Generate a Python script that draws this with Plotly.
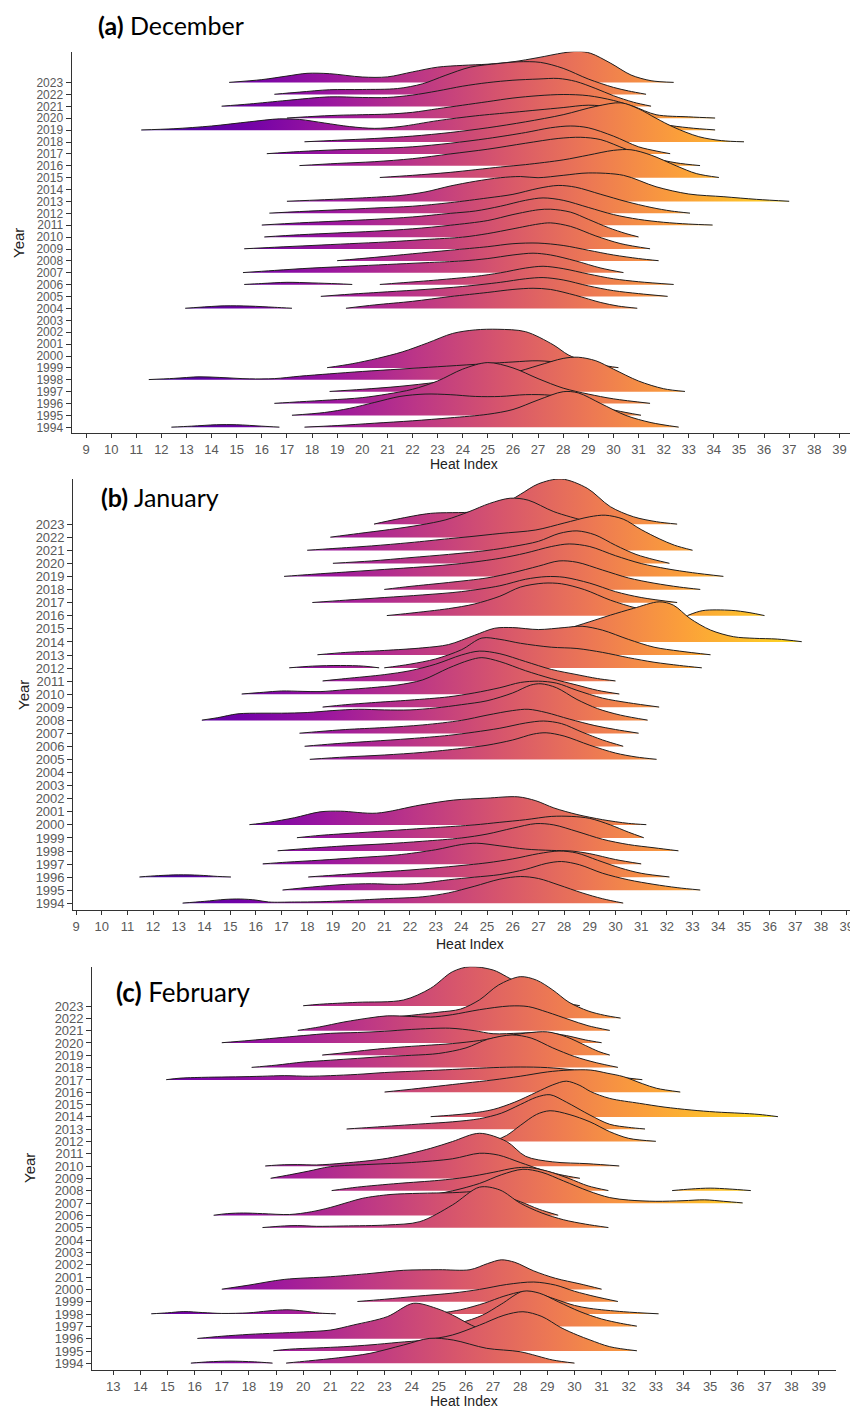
import plotly.graph_objects as go

# ---------------- (a) December ----------------
dec_years = [2023, 2022, 2021, 2020, 2019, 2018, 2017, 2016, 2015, 2013, 2012, 2011, 2010, 2009, 2008, 2007,
             2006, 2006, 2005, 2004, 2004, 1999, 1998, 1997, 1996, 1995, 1994, 1994]
dec_x = [
    [14.7, 16, 17, 17.8, 18.7, 20, 21, 22, 23, 24, 25, 26, 27, 28, 28.6, 29.1, 29.9, 30.7, 31.5, 32.4],
    [16.5, 17.5, 18.7, 20, 21.4, 22.4, 23.3, 24.3, 25.4, 26.2, 27.1, 28, 29, 30, 30.6, 31.3],
    [14.4, 15.5, 17, 18.7, 20, 21, 22, 23, 24, 25, 26, 27, 27.8, 28.5, 29.3, 30, 30.8, 31.5],
    [17, 18, 19, 20, 21, 22, 23, 24, 25, 26, 27, 28, 29, 30, 30.8, 31.7, 33, 34.05],
    [11.2, 12.5, 14, 15.5, 16.7, 17.5, 18.5, 19.5, 20.5, 21.5, 23, 24.5, 26, 27, 28, 29, 30, 31, 32, 33, 34.05],
    [17.7, 19, 20.5, 22, 23.5, 25, 26.5, 28, 29.3, 30.3, 31, 31.7, 32.4, 33.4, 34.3, 35.2],
    [16.2, 17.5, 19, 20.5, 22, 23.5, 25, 26.5, 27.5, 28.3, 29, 30, 31, 31.7, 32.26],
    [17.5, 19, 20.5, 22, 23.5, 25, 26.5, 27.8, 28.7, 29.5, 30.5, 31.5, 32.5, 33.45],
    [20.7, 22, 23.5, 25.5, 26.5, 28, 29, 30, 30.7, 31.5, 32.5, 33.3, 34.2],
    [17, 18.5, 20, 21.5, 22.5, 23.5, 24.5, 25.5, 26.3, 27, 28, 29, 30.4, 31.7, 33, 34.4, 35.7, 37],
    [16.3, 17.5, 19, 20.5, 22, 23.5, 25, 26, 27, 27.8, 28.5, 29.5, 30.5, 31.5, 32.3, 33.05],
    [16, 17.5, 19, 20.5, 22, 23.5, 24.5, 25.5, 26.5, 27.2, 28, 29, 30, 31, 32, 33, 33.95],
    [16.1, 17.5, 19, 20.5, 22, 23.5, 25, 26, 27, 27.5, 28.3, 29, 29.8, 30.5, 31],
    [15.3, 16.5, 18, 19.5, 21, 22.5, 24, 25, 26, 27, 27.5, 28.3, 29.3, 30.3, 31.46],
    [19, 20.5, 22, 23.5, 25, 26, 27, 28, 29, 30, 31, 31.8],
    [15.25, 16.5, 18, 19.5, 21, 22.5, 24, 25, 26, 26.8, 27.5, 28.5, 29.5, 30.4],
    [15.3, 16, 17, 18, 19, 19.6],
    [20.7, 21.5, 23, 24.5, 25.5, 26.5, 27.2, 28, 29, 30, 31, 32.4],
    [18.35, 19.5, 21, 22.5, 24, 25.5, 26.5, 27.2, 28, 29, 30, 31, 32.16],
    [12.95, 13.5, 14.5, 15.5, 16.5, 17.2],
    [19.35, 20.5, 22, 23.5, 25, 26, 26.8, 27.5, 28.5, 29.5, 30.2, 30.95],
    [18.6, 19.6, 20.6, 21.6, 22.6, 23.6, 24.5, 25.4, 26.5, 27.6, 28.2, 28.8, 29.5, 30.2],
    [11.5, 12.5, 13.5, 14.3, 15.5, 16.5, 17.5, 18.7, 20, 21.5, 23, 24.5, 26, 27, 28, 29, 30, 30.8],
    [18.7, 20, 21.5, 23, 24.5, 26, 27, 28, 28.6, 29.3, 30, 31, 32, 32.85],
    [16.5, 17.5, 18.7, 20, 21, 22, 23, 24, 25, 26, 27, 28, 29, 30, 31.46],
    [17.2, 18.5, 19.5, 20.5, 21.5, 22.5, 23.5, 24.5, 25.5, 26.5, 27.5, 28.5, 29.5, 30.5, 31.1],
    [12.4, 13.2, 14.2, 15, 16, 16.7],
    [17.7, 19, 20.5, 22, 23.5, 25, 26, 27, 28, 28.6, 29.5, 30.5, 31.5, 32.6],
]
dec_h = [
    [.02, .25, .55, .78, .75, .47, .48, .9, 1.3, 1.45, 1.55, 1.75, 2.1, 2.5, 2.63, 2.46, 1.62, .64, .16, .02],
    [.02, .2, .4, .42, .5, .9, 1.6, 2.3, 2.6, 2.75, 2.7, 2.2, 1.3, .6, .3, .02],
    [.02, .2, .5, .8, .75, .75, .95, 1.3, 1.7, 2.0, 2.2, 2.3, 2.35, 2.1, 1.5, .9, .35, .02],
    [.02, .15, .25, .3, .35, .5, .8, 1.1, 1.4, 1.7, 1.9, 2.0, 1.9, 1.5, 1.0, .3, .12, .02],
    [.02, .12, .35, .7, .95, .9, .6, .3, .15, .3, .8, 1.2, 1.5, 1.7, 1.9, 2.1, 1.9, 1.2, .5, .2, .02],
    [.02, .15, .3, .5, .8, 1.2, 1.7, 2.3, 3.0, 3.3, 2.8, 2.0, 1.25, .45, .12, .02],
    [.02, .2, .35, .45, .6, .9, 1.3, 1.8, 2.2, 2.35, 2.2, 1.5, .6, .25, .02],
    [.02, .2, .35, .6, 1.0, 1.4, 1.9, 2.3, 2.4, 2.2, 1.4, .7, .25, .02],
    [.02, .2, .45, .9, 1.1, 1.5, 1.9, 2.3, 2.35, 1.9, 1.0, .35, .02],
    [.02, .15, .3, .5, .8, 1.3, 1.7, 2.0, 2.1, 2.0, 2.2, 2.4, 2.2, 1.24, .63, .4, .18, .02],
    [.02, .15, .3, .45, .6, .9, 1.3, 1.6, 2.1, 2.35, 2.2, 1.6, 1.0, .5, .2, .02],
    [.02, .2, .35, .5, .7, 1.0, 1.2, 1.6, 2.1, 2.3, 2.1, 1.5, .9, .5, .25, .1, .02],
    [.02, .2, .35, .5, .7, 1.0, 1.4, 1.9, 2.3, 2.35, 2.1, 1.5, .8, .3, .02],
    [.02, .15, .3, .45, .6, .8, 1.0, 1.3, 1.7, 2.1, 2.2, 1.9, 1.1, .45, .02],
    [.02, .3, .6, .9, 1.2, 1.45, 1.5, 1.3, .9, .5, .2, .02],
    [.02, .2, .4, .55, .7, .85, 1.0, 1.2, 1.5, 1.65, 1.5, 1.0, .4, .02],
    [.02, .1, .2, .15, .08, .02],
    [.02, .15, .4, .7, 1.0, 1.4, 1.55, 1.35, .9, .5, .25, .02],
    [.02, .2, .4, .6, .85, 1.2, 1.5, 1.6, 1.4, .9, .5, .25, .02],
    [.02, .1, .22, .2, .1, .02],
    [.02, .3, .6, 1.0, 1.35, 1.6, 1.7, 1.6, 1.1, .5, .2, .02],
    [.02, .35, .8, 1.35, 2.1, 2.9, 3.2, 3.25, 3.05, 1.95, 1.1, .6, .25, .02],
    [.02, .12, .25, .2, .08, .1, .3, .5, .7, .9, 1.1, 1.3, 1.5, 1.6, 1.4, .9, .35, .02],
    [.02, .2, .45, .8, 1.2, 1.6, 2.2, 2.8, 2.9, 2.6, 1.9, .9, .25, .02],
    [.02, .15, .3, .5, .8, 1.2, 1.9, 2.9, 3.45, 3.0, 2.1, 1.3, .8, .4, .02],
    [.02, .25, .6, 1.1, 1.6, 1.8, 1.75, 1.6, 1.6, 1.75, 1.7, 1.3, .7, .25, .02],
    [.02, .1, .22, .22, .1, .02],
    [.02, .15, .35, .55, .8, 1.1, 1.5, 2.3, 3.0, 2.9, 2.0, 1.0, .4, .02],
]

# ---------------- (b) January ----------------
jan_years = [2023, 2022, 2021, 2020, 2019, 2018, 2017, 2016, 2016, 2014, 2013, 2012, 2012, 2011, 2010, 2009,
             2008, 2007, 2006, 2005, 2000, 1999, 1998, 1997, 1996, 1996, 1995, 1994]
jan_x = [
    [20.6, 21.5, 22.8, 24.5, 25.5, 26.3, 27, 27.9, 28.9, 29.8, 30.7, 31.6, 32.4],
    [18.9, 20, 21.2, 22.4, 23.4, 24.3, 25.1, 25.9, 26.6, 27.6, 28.9, 29.7, 30.5, 31.3],
    [18, 19, 20.5, 22, 23.5, 24.3, 25.5, 26.9, 28, 29, 29.6, 30.3, 31, 31.7, 32.3, 33],
    [19, 20.5, 22, 23.5, 25, 26, 27, 27.8, 28.5, 29.2, 30, 30.8, 31.5, 32.1],
    [17.1, 18, 19.5, 21, 22.5, 24, 25.5, 26.5, 27.5, 28.2, 29, 30, 31, 32, 33, 34.2],
    [21, 22, 23.5, 25, 26, 27, 27.8, 28.5, 29.5, 30.5, 31.5, 32.5, 33.3],
    [18.2, 19.5, 21, 22.5, 24, 25.5, 26.5, 27.3, 28, 29, 30, 31, 32.4],
    [21.1, 22, 23.5, 24.5, 25.5, 26.3, 27.2, 27.9, 28.8, 29.8, 30.8, 31.7, 32.4],
    [32.8, 33.4, 34.5, 35.2, 35.8],
    [25, 26, 27, 28, 29, 29.8, 30.7, 31.7, 32.25, 32.9, 33.7, 34.6, 35.4, 36.3, 37.25],
    [18.4, 19.5, 21, 22.5, 23.5, 24.5, 25.3, 26, 27, 28, 28.7, 29.5, 30.5, 31.5, 32.5, 33.7],
    [17.3, 18.2, 19.3, 20.2, 20.8],
    [21, 22, 23, 24, 24.8, 25.5, 26.3, 27.5, 28.5, 29.5, 30.5, 31.5, 32.5, 33.36],
    [18.6, 19.5, 21, 22, 23, 24, 24.7, 25.5, 26.5, 27.5, 28.5, 29.3, 30],
    [15.45, 16.3, 17, 17.8, 18.5, 19.5, 20.5, 21.5, 22.5, 23.5, 24.3, 24.8, 25.5, 26.5, 27.5, 28.5, 29.3, 30.15],
    [18.6, 19.5, 20.5, 22, 23.5, 24.5, 25.5, 26.3, 27, 27.7, 28.5, 29.5, 30.5, 31.7],
    [13.9, 14.5, 15.3, 16.2, 17, 18, 19, 20, 21, 22, 23, 24, 25, 26, 26.7, 27.1, 27.7, 28.5, 29.3, 30.2, 31.25],
    [17.7, 18.5, 19.5, 21, 22.5, 24, 25, 26, 26.6, 27.3, 28.2, 29.2, 30, 30.9],
    [17.9, 19, 20.5, 22, 23.5, 24.5, 25.5, 26.5, 27.2, 27.9, 28.7, 29.5, 30.3],
    [18.1, 19.5, 21, 22.5, 24, 25, 26, 26.8, 27.3, 28, 29, 30, 30.8, 31.6],
    [15.75, 16.5, 17.5, 18.5, 19.3, 20.7, 22.4, 23.7, 25, 26.2, 26.9, 27.6, 28.5, 29.5, 30.5, 31.2],
    [17.6, 18.5, 20, 21.5, 23, 24.5, 25.5, 26.5, 27.5, 28.3, 29, 29.8, 30.5, 31.1],
    [16.85, 18, 19.5, 21, 22.5, 24, 25, 26, 26.9, 27.6, 28.5, 29.5, 30.5, 31.5, 32.45],
    [16.27, 17.2, 18.5, 20, 21.5, 23, 24, 24.6, 25.5, 26.5, 27.5, 28.3, 29, 30, 31],
    [11.47, 12.2, 13, 13.8, 14.5, 15.03],
    [18.04, 19, 20.5, 22, 23.5, 25, 26, 27, 27.8, 28.5, 29.3, 30.2, 31, 32.1],
    [17.04, 18.2, 19.5, 20.5, 21.5, 22.5, 23.5, 24.5, 25.5, 26.5, 27.3, 27.9, 28.6, 29.5, 30.5, 31.5, 32.4, 33.3],
    [13.15, 14, 14.8, 15.4, 16, 16.5, 17.5, 18.5, 19.5, 21, 22.5, 23.5, 24.5, 25.5, 26.3, 27, 27.8, 28.7, 29.5, 30.3],
]
jan_h = [
    [.02, .4, .84, .96, 1.4, 2.3, 3.1, 3.47, 2.76, 1.35, .58, .2, .02],
    [.02, .3, .6, .95, 1.35, 1.97, 2.6, 3.0, 2.85, 1.97, 1.2, .7, .3, .02],
    [.02, .15, .35, .6, .9, 1.05, 1.3, 1.57, 2.1, 2.58, 2.7, 2.4, 1.6, .9, .4, .02],
    [.02, .2, .45, .7, 1.0, 1.3, 1.7, 2.3, 2.5, 2.2, 1.4, .7, .3, .02],
    [.02, .15, .35, .55, .75, 1.0, 1.4, 1.8, 2.3, 2.5, 2.3, 1.6, 1.0, .6, .3, .02],
    [.02, .25, .55, .9, 1.3, 1.8, 2.2, 2.1, 1.5, .9, .5, .2, .02],
    [.02, .2, .4, .6, .85, 1.3, 1.8, 2.0, 1.95, 1.5, .85, .4, .02],
    [.02, .2, .55, .9, 1.5, 2.2, 2.5, 2.45, 2.0, 1.2, .6, .25, .02],
    [.02, .4, .42, .25, .02],
    [.02, .25, .55, .95, 1.55, 2.05, 2.57, 3.07, 2.82, 1.8, .91, .4, .28, .22, .02],
    [.02, .2, .35, .55, .8, 1.5, 2.05, 2.1, 1.95, 2.1, 2.2, 1.9, 1.2, .6, .3, .02],
    [.02, .15, .2, .15, .02],
    [.02, .3, .7, 1.4, 2.3, 2.2, 1.9, 1.6, 1.5, 1.2, .8, .45, .2, .02],
    [.02, .2, .5, .8, 1.3, 2.0, 2.3, 2.1, 1.5, .9, .5, .2, .02],
    [.02, .15, .25, .22, .2, .35, .5, .7, 1.1, 2.0, 2.6, 2.8, 2.5, 1.8, 1.2, .7, .3, .02],
    [.02, .2, .35, .55, .8, 1.1, 1.5, 1.9, 2.0, 1.85, 1.3, .7, .35, .02],
    [.02, .2, .5, .55, .55, .6, .75, .85, .8, .8, .95, 1.2, 1.5, 2.1, 2.7, 2.8, 2.5, 1.6, .9, .4, .02],
    [.02, .15, .3, .45, .65, 1.0, 1.4, 1.75, 1.85, 1.6, 1.1, .6, .3, .02],
    [.02, .2, .4, .6, .85, 1.1, 1.4, 1.8, 1.95, 1.75, 1.1, .5, .02],
    [.02, .2, .35, .55, .85, 1.1, 1.5, 1.95, 2.05, 1.8, 1.1, .5, .2, .02],
    [.02, .2, .55, 1.0, 1.05, .9, 1.52, 1.9, 2.05, 2.15, 1.85, 1.3, .8, .4, .12, .02],
    [.02, .2, .4, .6, .8, 1.0, 1.2, 1.4, 1.65, 1.65, 1.5, 1.0, .45, .02],
    [.02, .2, .4, .55, .75, 1.0, 1.3, 1.75, 2.1, 2.0, 1.5, .9, .5, .25, .02],
    [.02, .15, .3, .5, .7, 1.1, 1.5, 1.6, 1.4, 1.15, 1.05, 1.0, .8, .35, .02],
    [.02, .12, .18, .15, .06, .02],
    [.02, .15, .35, .55, .8, 1.1, 1.4, 1.8, 2.0, 1.85, 1.3, .7, .3, .02],
    [.02, .25, .45, .5, .45, .55, .8, 1.0, 1.2, 1.6, 2.05, 2.2, 1.95, 1.3, .8, .45, .2, .02],
    [.02, .15, .3, .33, .25, .1, .1, .12, .2, .35, .5, .8, 1.3, 1.85, 2.05, 1.9, 1.4, .8, .35, .02],
]

# ---------------- (c) February ----------------
feb_years = [2023, 2022, 2021, 2020, 2019, 2018, 2017, 2016, 2014, 2013, 2012, 2010, 2009, 2008, 2008, 2007,
             2006, 2005, 2000, 1999, 1998, 1998, 1997, 1996, 1995, 1994, 1994]
feb_x = [
    [20, 20.6, 22, 23.7, 24.7, 25.5, 26.15, 27, 27.5, 28.2, 28.9, 29.6, 30.2],
    [23, 24, 25, 25.8, 26.5, 27.2, 28, 28.6, 29.2, 29.8, 30.5, 31.1, 31.7],
    [19.8, 20.6, 21.5, 22.5, 23.1, 24, 24.7, 25.5, 26.5, 27.6, 28.3, 29, 29.8, 30.5, 31.3],
    [17, 18, 19, 20, 21, 22, 23, 24, 25.4, 26.3, 27, 28, 28.9, 29.7, 30.4, 31],
    [20.7, 21.5, 22.5, 23.5, 24.5, 25.5, 26.5, 27.3, 28.2, 29, 29.7, 30.4, 30.9, 31.3],
    [18.1, 19, 20, 21, 22, 23, 24, 25, 26, 26.8, 27.7, 28.4, 29.2, 30, 30.8, 31.6],
    [14.95, 15.5, 16.5, 17.5, 18.5, 19.3, 20.2, 21, 22, 23, 24, 25, 26, 27, 28, 29, 30, 31, 31.8, 32.5],
    [23, 24, 25, 26, 27, 28, 29, 29.8, 30.6, 31.2, 31.8, 32.5, 33.03, 33.9],
    [24.7, 25.5, 26.2, 27, 27.8, 28.6, 29.2, 29.7, 30.2, 30.6, 31.3, 32.4, 33.3, 34.3, 35.2, 36.1, 36.8, 37.5],
    [21.6, 22.5, 23.5, 24.5, 25.5, 26.5, 27.3, 28, 28.6, 29.1, 29.7, 30.57, 31.3, 32, 32.6],
    [27, 27.5, 28, 28.6, 29.1, 29.8, 30.57, 31.3, 32, 33],
    [18.6, 19.3, 19.8, 20.5, 21.5, 23.1, 24.7, 25.5, 26.5, 27.5, 28.2, 29.2, 30.5, 31.65],
    [18.8, 19.5, 20.2, 21, 22.5, 24, 25.5, 26.5, 27.2, 28, 28.8, 29.5, 30.2],
    [21.05, 22, 23.5, 25, 26, 27, 27.8, 28.3, 29, 29.8, 30.5, 31.25],
    [33.6, 34.3, 35, 35.7, 36.5],
    [22.5, 23.5, 24.5, 25.5, 26.5, 27.3, 28.1, 28.8, 29.6, 30.5, 31.3, 32, 33, 34, 34.8, 35.5, 36.2],
    [16.7, 17.2, 17.8, 18.5, 19.5, 20.3, 21, 21.7, 22.2, 23.2, 24.3, 25.5, 26.5, 27.2, 28, 28.7, 29.4],
    [18.5, 19.3, 19.8, 20.5, 21.5, 23.1, 24.3, 25.5, 26.5, 27.25, 28, 28.8, 29.6, 30.4, 31.25],
    [17, 18, 19.3, 21, 22.5, 23.7, 25, 26.15, 26.8, 27.3, 27.8, 28.5, 29.3, 30.2, 31],
    [22, 23, 24.2, 25.5, 26.5, 27.5, 28.5, 29.3, 30, 30.8, 31.6],
    [14.4, 15, 15.6, 16.3, 17, 18, 18.7, 19.4, 20, 20.6, 21.2],
    [24.9, 25.8, 26.7, 27.4, 28.1, 28.6, 29.3, 30, 30.57, 31.8, 33.1],
    [25, 25.8, 26.6, 27.3, 28.1, 28.7, 29.4, 30.2, 31, 31.7, 32.3],
    [16.1, 17, 18, 19, 20, 21, 21.85, 23.1, 24.06, 24.9, 25.5, 26.2, 26.8, 27.8, 29],
    [18.9, 19.5, 20.5, 21.5, 22.5, 23.5, 24.5, 25.5, 26.5, 27.4, 28.1, 28.8, 29.5, 30.1, 30.57, 31.3, 32.3],
    [15.86, 16.5, 17.3, 18.2, 18.87],
    [19.37, 20.2, 21.3, 22.46, 23.7, 24.67, 25.53, 26.76, 28, 29.2, 30],
]
feb_h = [
    [.02, .14, .3, .49, 1.44, 2.78, 3.19, 2.92, 2.38, 1.5, .8, .3, .02],
    [.02, .25, .5, .75, 1.5, 2.7, 3.38, 3.1, 2.3, 1.3, .6, .25, .02],
    [.02, .3, .7, 1.05, 1.2, 1.15, 1.1, 1.3, 1.7, 2.0, 1.95, 1.5, .9, .4, .02],
    [.02, .2, .4, .6, .78, .85, .95, 1.1, 1.2, 1.0, .75, .8, .85, .6, .25, .02],
    [.02, .2, .45, .65, .8, .95, 1.2, 1.5, 1.8, 1.9, 1.5, .8, .3, .02],
    [.02, .2, .45, .6, .75, .9, 1.0, 1.15, 1.6, 2.3, 2.65, 2.4, 1.6, .9, .4, .02],
    [.02, .15, .22, .25, .3, .35, .3, .35, .45, .6, .7, .8, .9, 1.0, 1.05, 1.0, .8, .45, .2, .02],
    [.02, .25, .5, .75, 1.0, 1.3, 1.65, 1.8, 1.8, 1.55, 1.27, .7, .32, .02],
    [.02, .15, .3, .6, 1.2, 2.0, 2.6, 2.9, 2.55, 2.05, 1.5, 1.1, .8, .56, .4, .3, .2, .02],
    [.02, .15, .3, .45, .6, .85, 1.3, 2.0, 2.6, 2.8, 2.2, 1.15, .4, .15, .02],
    [.02, .5, 1.3, 2.2, 2.5, 2.2, 1.6, .8, .26, .02],
    [.02, .12, .13, .1, .25, .64, 1.45, 2.0, 2.67, 2.0, .8, .35, .2, .02],
    [.02, .3, .6, .96, 1.15, 1.3, 1.6, 2.05, 1.9, 1.3, .7, .3, .02],
    [.02, .3, .6, .85, 1.1, 1.5, 1.85, 1.9, 1.6, 1.0, .4, .02],
    [.02, .15, .22, .15, .02],
    [.02, .25, .6, 1.0, 1.6, 2.3, 2.75, 2.5, 1.8, 1.0, .45, .25, .15, .2, .27, .15, .02],
    [.02, .15, .2, .15, .08, .3, .65, 1.1, 1.4, 1.7, 1.8, 1.85, 1.93, 1.7, 1.12, .5, .02],
    [.02, .15, .18, .12, .15, .23, .5, 1.85, 3.3, 3.07, 2.0, 1.2, .65, .3, .02],
    [.02, .35, .81, 1.03, 1.3, 1.55, 1.6, 1.6, 2.1, 2.4, 2.2, 1.5, .9, .45, .02],
    [.02, .2, .45, .7, 1.0, 1.4, 1.6, 1.35, .85, .4, .02],
    [.02, .1, .2, .12, .05, .1, .25, .35, .25, .08, .02],
    [.02, .35, .9, 1.45, 1.82, 1.7, 1.2, .7, .46, .19, .02],
    [.02, .3, .9, 1.8, 2.85, 2.7, 2.0, 1.2, .6, .25, .02],
    [.02, .2, .35, .45, .55, .7, 1.11, 1.79, 2.87, 2.47, 1.92, 1.1, .57, .25, .02],
    [.02, .15, .25, .35, .5, .7, .9, 1.3, 2.1, 2.9, 3.19, 2.8, 1.9, 1.3, .9, .35, .02],
    [.02, .12, .18, .12, .02],
    [.02, .2, .45, .81, 1.49, 2.03, 1.89, 1.22, .94, .27, .02],
]

all_years = list(range(1994, 2024))
plasma = ['#0d0887', '#46039f', '#7201a8', '#9c179e', '#bd3786',
          '#d8576b', '#ed7953', '#fb9f3a', '#fdca26', '#f0f921']
cscale = [[i / (len(plasma) - 1), c] for i, c in enumerate(plasma)]

# the page body adds an 8px margin, so the figure is placed 8px in from the top-left
OFF = 8
W, H = 858 - OFF, 1411 - OFF


def fx(px):
    return (px - OFF) / W


def fy(py):
    return 1 - (py - OFF) / H


panels = [
    dict(years=dec_years, xs=dec_x, hs=dec_h, sfx='', xdom=[71.7, 857], ytop=51.7, ybot=433.3,
         xr=[8.43, 39.7], yr=[1993.5, 2025.6], xt=list(range(9, 40)),
         title='<b>(a)</b> December', tx=96, ty=None, tsize=25, yfs=12,
         yt_x=18, yt_y=243, xt_x=464, xt_y=464),
    dict(years=jan_years, xs=jan_x, hs=jan_h, sfx='2', xdom=[73.3, 858], ytop=479, ybot=910,
         xr=[8.895, 39.44], yr=[1993.49, 2026.47], xt=list(range(9, 40)),
         title='<b>(b)</b> January', tx=99, ty=497, tsize=25, yfs=13,
         yt_x=23, yt_y=695, xt_x=470, xt_y=944),
    dict(years=feb_years, xs=feb_x, hs=feb_h, sfx='3', xdom=[92.3, 836], ytop=966.7, ybot=1370,
         xr=[12.226, 39.64], yr=[1993.46, 2026.19], xt=list(range(13, 40)),
         title='<b>(c)</b> February', tx=114, ty=992, tsize=26, yfs=13,
         yt_x=29, yt_y=1168, xt_x=464, xt_y=1401),
]

fig = go.Figure()
annotations = []
for p in panels:
    xa = 'x' + p['sfx']
    ya = 'y' + p['sfx']
    order = sorted(range(len(p['years'])), key=lambda i: -p['years'][i])
    for i in order:
        yr = p['years'][i]
        xs = p['xs'][i]
        hs = p['hs'][i]
        fig.add_trace(go.Scatter(x=[xs[0], xs[-1]], y=[yr, yr], mode='lines',
                                 line=dict(width=0, color='rgba(0,0,0,0)'),
                                 xaxis=xa, yaxis=ya, hoverinfo='skip', showlegend=False))
        fig.add_trace(go.Scatter(x=xs, y=[yr + h for h in hs], mode='lines',
                                 line=dict(width=1, color='#1e1e1e', shape='spline', smoothing=0.9),
                                 fill='tonexty',
                                 fillgradient=dict(type='horizontal', start=8.5, stop=39.5,
                                                   colorscale=cscale),
                                 xaxis=xa, yaxis=ya, hoverinfo='skip', showlegend=False))
    xkey = 'xaxis' + p['sfx']
    ykey = 'yaxis' + p['sfx']
    fig.layout[xkey] = dict(
        domain=[fx(p['xdom'][0]), min(1.0, fx(p['xdom'][1]))], range=p['xr'], anchor=ya,
        showgrid=False, zeroline=False, showline=True, linecolor='#333333', linewidth=1.3,
        ticks='outside', ticklen=4, tickwidth=1.2, tickcolor='#333333',
        tickvals=p['xt'], ticktext=[str(v) for v in p['xt']],
        tickfont=dict(family='Liberation Sans, Arial', size=13, color='#595959'))
    fig.layout[ykey] = dict(
        domain=[fy(p['ybot']), fy(p['ytop'])], range=p['yr'], anchor=xa,
        showgrid=False, zeroline=False, showline=True, linecolor='#333333', linewidth=1.3,
        ticks='outside', ticklen=5, tickwidth=1.2, tickcolor='#333333',
        tickvals=all_years, ticktext=[str(v) for v in all_years],
        tickfont=dict(family='Liberation Sans, Arial', size=p['yfs'], color='#595959'))
    if p['ty'] is None:
        annotations.append(dict(text=p['title'], x=fx(p['tx']), y=1.0, xref='paper', yref='paper',
                                xanchor='left', yanchor='top', showarrow=False,
                                font=dict(family='Lato, Open Sans, sans-serif', size=p['tsize'],
                                          color='#000000')))
    else:
        annotations.append(dict(text=p['title'], x=fx(p['tx']), y=fy(p['ty']), xref='paper', yref='paper',
                                xanchor='left', yanchor='middle', showarrow=False,
                                font=dict(family='Lato, Open Sans, sans-serif', size=p['tsize'],
                                          color='#000000')))
    annotations.append(dict(text='Year', x=fx(p['yt_x']), y=fy(p['yt_y']), xref='paper', yref='paper',
                            xanchor='center', yanchor='middle', showarrow=False, textangle=-90,
                            font=dict(family='Liberation Sans, Arial', size=15, color='#222222')))
    annotations.append(dict(text='Heat Index', x=fx(p['xt_x']), y=fy(p['xt_y']), xref='paper', yref='paper',
                            xanchor='center', yanchor='middle', showarrow=False,
                            font=dict(family='Liberation Sans, Arial', size=14, color='#222222')))

fig.update_layout(width=W, height=H, margin=dict(l=0, r=0, t=0, b=0),
                  plot_bgcolor='white', paper_bgcolor='white', showlegend=False,
                  annotations=annotations)
fig.write_html('out.html')
